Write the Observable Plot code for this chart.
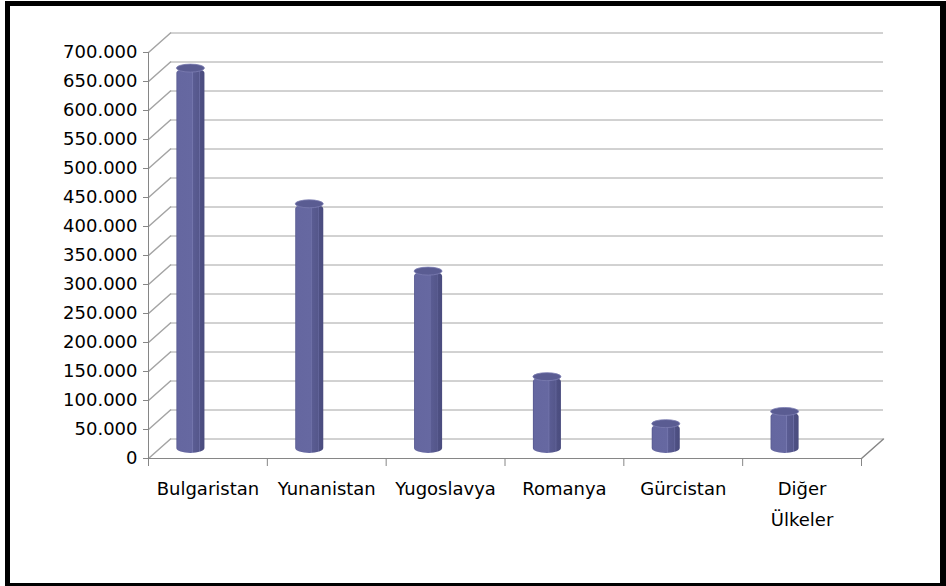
<!DOCTYPE html>
<html><head><meta charset="utf-8">
<script src="https://cdn.jsdelivr.net/npm/d3@7"></script>
<script src="https://cdn.jsdelivr.net/npm/@observablehq/plot@0.6"></script>
<style>
html,body{margin:0;padding:0;background:#fff;}
#wrap{position:relative;width:946px;height:586px;overflow:hidden;background:#fff;}
#chart{position:absolute;left:0;top:0;}
#frame{position:absolute;left:5px;top:1px;width:930px;height:577px;border-style:solid;border-color:#000;border-width:5px 6px 3px 5px;pointer-events:none;}
</style></head><body>
<div id="wrap"><div id="chart"></div><div id="frame"></div></div>
<script>
const categories = ["Bulgaristan", "Yunanistan", "Yugoslavya", "Romanya", "Gürcistan", "Diğer Ülkeler"];
const categoryLabels = ["Bulgaristan", "Yunanistan", "Yugoslavya", "Romanya", "Gürcistan", "Diğer\nÜlkeler"];
const values = [655000, 421000, 305000, 123000, 42000, 63000];
const yTicks = [0, 50000, 100000, 150000, 200000, 250000, 300000, 350000, 400000, 450000, 500000, 550000, 600000, 650000, 700000];

const data = categories.map((c, i) => ({i, c, v: values[i]}));
const boundaries = d3.range(0, categories.length + 1);
const centers = categories.map((c, i) => i + 0.5);

const GRID = "#a4a4a4", AXIS = "#868686";
const trFormat = d3.formatLocale({decimal: ",", thousands: ".", grouping: [3], currency: ["", ""]}).format(",");
const diag = {draw(ctx, l) { ctx.moveTo(0, 0); ctx.lineTo(0, -l); }};
const depth = {length: 29.4, rotate: 48.4, anchor: "start", shape: diag};
const barX = {x1: d => d.i, x2: d => d.i + 1, insetLeft: 45.4, insetRight: 45.4, dx: -17, dy: -10};

const svg = Plot.plot({
  width: 946, height: 586,
  marginLeft: 148, marginRight: 85, marginTop: 52, marginBottom: 128,
  style: {fontFamily: "'DejaVu Sans', sans-serif", fontSize: "18px", color: "#000", background: "transparent"},
  x: {domain: [0, categories.length], axis: null, label: null},
  y: {domain: [0, 700000], axis: null, label: null},
  marks: [
    Plot.ruleY(yTicks, {dx: 22, dy: -19.5, stroke: GRID}),
    Plot.vector(yTicks, {x: 0, y: d => d, ...depth, stroke: GRID}),
    Plot.vector([0], {x: categories.length, y: 0, ...depth, stroke: AXIS}),
    Plot.ruleY([0], {stroke: AXIS}),
    Plot.ruleX([0], {stroke: AXIS}),
    Plot.axisY({ticks: yTicks, label: null, tickSize: 5, tickPadding: 6, tickFormat: d => d === 0 ? "0" : trFormat(d), stroke: AXIS, fill: "#000"}),
    Plot.axisX({ticks: boundaries, label: null, tickSize: 8, tickFormat: () => "", stroke: AXIS}),
    Plot.axisX({ticks: centers, label: null, tickSize: 0, tickPadding: 14, tickFormat: t => categoryLabels[Math.floor(t)], lineHeight: 1.75, fill: "#000"}),
    Plot.rect(data, {...barX, y1: () => 0, y2: "v", insetBottom: -5, rx: 14, ry: 5, fill: "url(#barGrad)"}),
    Plot.rect(data, {...barX, y1: "v", y2: "v", insetTop: -4, insetBottom: -4, rx: 14, ry: 4, fill: "#5a5c92", stroke: "#7c7eb2", strokeWidth: 0.8})
  ]
});
d3.select(svg).insert("defs", ":first-child").html(`
  <linearGradient id="barGrad" x1="0" x2="1" y1="0" y2="0">
    <stop offset="0" stop-color="#55578e"/>
    <stop offset="0.05" stop-color="#6567a0"/>
    <stop offset="0.55" stop-color="#6668a1"/>
    <stop offset="0.57" stop-color="#7779b0"/>
    <stop offset="0.60" stop-color="#5a5c93"/>
    <stop offset="0.80" stop-color="#55578b"/>
    <stop offset="0.82" stop-color="#6a6ca3"/>
    <stop offset="0.85" stop-color="#4e5083"/>
    <stop offset="1" stop-color="#4a4c7e"/>
  </linearGradient>`);
document.getElementById("chart").appendChild(svg);
</script>
</body></html>
